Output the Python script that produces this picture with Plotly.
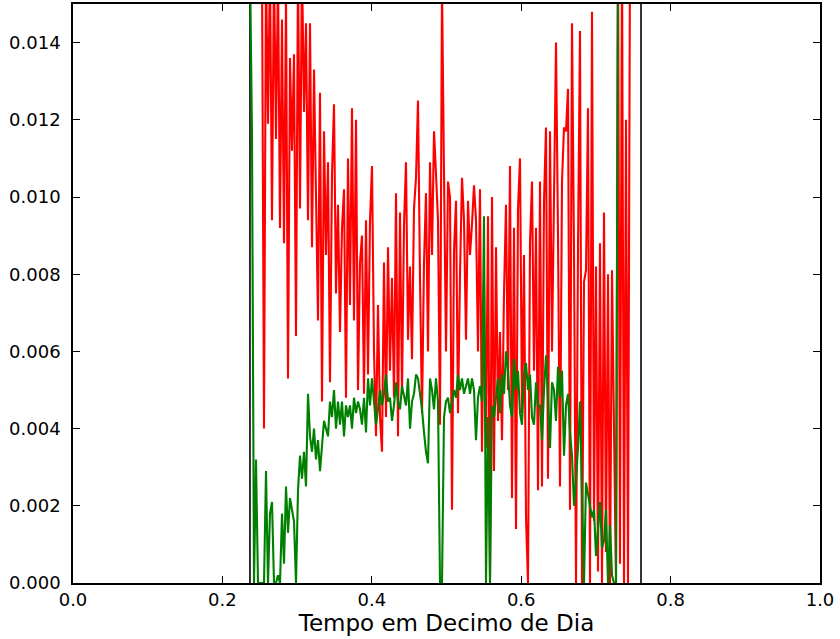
import numpy as np
import plotly.graph_objects as go

# Time grid (decimal fraction of day), regular sampling
tempo_inicio = 0.23695
tempo_fim = 0.74565
n_amostras = 191

# Red series values (None = no data)
serie_vermelha = [
    None, None, None, None, None, None,
    0.0160, 0.0040, 0.0160, 0.0119, 0.0160, 0.0094, 0.0160, 0.0115, 0.0158, 0.0092,
    0.0146, 0.0088, 0.0152, 0.0053, 0.0136, 0.0112, 0.0137, 0.0064, 0.0160, 0.0097,
    0.0160, 0.0122, 0.0145, 0.0094, 0.0145, 0.0087, 0.0133, 0.0105, 0.0068, 0.0127,
    0.0047, 0.0117, 0.0085, 0.0109, 0.0052, 0.0106, 0.0124, 0.0075, 0.0098, 0.0065,
    0.0092, 0.0102, 0.0048, 0.0110, 0.0072, 0.0123, 0.0068, 0.0120, 0.0050, 0.0083,
    0.0090, 0.0049, 0.0094, 0.0054, 0.0094, 0.0108, 0.0060, 0.0038, 0.0072, 0.0043,
    0.0034, 0.0083, 0.0043, 0.0087, 0.0055, 0.0079, 0.0048, 0.0101, 0.0038, 0.0096,
    0.0049, 0.0093, 0.0109, 0.0063, 0.0082, 0.0058, 0.0097, 0.0105, 0.0125, 0.0079,
    0.0044, 0.0083, 0.0101, 0.0060, 0.0109, 0.0085, 0.0117, 0.0106, 0.0094, 0.0041,
    0.0155, 0.0106, 0.0060, 0.0104, 0.0100, 0.0019, 0.0086, 0.0099, 0.0044, 0.0080,
    0.0105, 0.0094, 0.0063, 0.0099, 0.0085, 0.0093, 0.0103, 0.0094, 0.0060, 0.0102,
    0.0034, 0.0078, 0.0035, 0.0095, 0.0000, 0.0100, 0.0029, 0.0087, 0.0042, 0.0065,
    0.0037, 0.0075, 0.0098, 0.0050, 0.0108, 0.0022, 0.0092, 0.0014, 0.0097, 0.0110,
    0.0044, 0.0085, 0.0017, 0.0000, 0.0088, 0.0104, 0.0055, 0.0092, 0.0024, 0.0104,
    0.0025, 0.0099, 0.0118, 0.0027, 0.0117, 0.0060, 0.0106, 0.0140, 0.0090, 0.0025,
    0.0104, 0.0118, 0.0117, 0.0128, 0.0019, 0.0145, 0.0086, 0.0000, 0.0087, 0.0143,
    0.0000, 0.0078, 0.0081, 0.0123, 0.0000, 0.0148, 0.0016, 0.0082, 0.0003, 0.0088,
    0.0000, 0.0096, 0.0008, 0.0080, 0.0000, 0.0081, 0.0040, 0.0000, 0.0165, 0.0005,
    0.0165, 0.0000, 0.0120, 0.0000, 0.0165, None,
]

# Green series values (None = no data)
serie_verde = [
    0.0160, 0.0116, 0.0000, 0.0032, 0.0000, 0.0000, 0.0000, 0.0000, 0.0029, 0.0000,
    0.0018, 0.0021, 0.0000, 0.0000, 0.0002, 0.0000, 0.0018, 0.0005, 0.0025, 0.0013,
    0.0022, 0.0019, 0.0016, 0.0000, 0.0024, 0.0033, 0.0027, 0.0034, 0.0025, 0.0049,
    0.0038, 0.0034, 0.0040, 0.0032, 0.0037, 0.0029, 0.0037, 0.0042, 0.0040, 0.0038,
    0.0047, 0.0043, 0.0050, 0.0040, 0.0047, 0.0041, 0.0047, 0.0038, 0.0046, 0.0043,
    0.0046, 0.0040, 0.0048, 0.0044, 0.0047, 0.0045, 0.0041, 0.0048, 0.0039, 0.0053,
    0.0046, 0.0053, 0.0047, 0.0041, 0.0045, 0.0050, 0.0046, 0.0049, 0.0054, 0.0047,
    0.0048, 0.0042, 0.0046, 0.0052, 0.0047, 0.0045, 0.0051, 0.0048, 0.0046, 0.0053,
    0.0040, 0.0047, 0.0049, 0.0054, 0.0053, 0.0049, 0.0045, 0.0039, 0.0034, 0.0031,
    0.0053, 0.0050, 0.0045, 0.0053, 0.0047, 0.0000, 0.0000, 0.0043, 0.0047, 0.0048,
    0.0044, 0.0047, 0.0050, 0.0048, 0.0054, 0.0050, 0.0053, 0.0049, 0.0051, 0.0053,
    0.0049, 0.0053, 0.0050, 0.0037, 0.0048, 0.0051, 0.0047, 0.0095, 0.0000, 0.0043,
    0.0000, 0.0046, 0.0043, 0.0048, 0.0053, 0.0044, 0.0054, 0.0049, 0.0060, 0.0055,
    0.0046, 0.0043, 0.0058, 0.0050, 0.0055, 0.0044, 0.0041, 0.0054, 0.0057, 0.0050,
    0.0054, 0.0043, 0.0041, 0.0052, 0.0046, 0.0046, 0.0037, 0.0050, 0.0059, 0.0048,
    0.0035, 0.0052, 0.0050, 0.0042, 0.0056, 0.0048, 0.0055, 0.0033, 0.0046, 0.0049,
    0.0039, 0.0033, 0.0020, 0.0027, 0.0035, 0.0047, 0.0022, 0.0000, 0.0026, 0.0023,
    0.0021, 0.0017, 0.0019, 0.0007, 0.0014, 0.0021, 0.0009, 0.0011, 0.0019, 0.0000,
    0.0015, 0.0002, 0.0000, 0.0000, 0.0165, None, None, None, None, None,
    None,
]

# Black boundary markers (start / end of the observation window)
limites_janela = [0.2369, 0.7604]
limite_altura = [0.0, 0.02]

x_ticks = [0.0, 0.2, 0.4, 0.6, 0.8, 1.0]
x_tick_labels = ["0.0", "0.2", "0.4", "0.6", "0.8", "1.0"]
y_ticks = [0.000, 0.002, 0.004, 0.006, 0.008, 0.010, 0.012, 0.014]
y_tick_labels = ["0.000", "0.002", "0.004", "0.006", "0.008", "0.010", "0.012", "0.014"]

tempo = np.linspace(tempo_inicio, tempo_fim, n_amostras)

fig = go.Figure()

bx, by = [], []
for xv in limites_janela:
    bx += [xv, xv, None]
    by += [limite_altura[0], limite_altura[1], None]
fig.add_trace(go.Scatter(x=bx, y=by, mode="lines",
                         line=dict(color="black", width=1.6),
                         showlegend=False, hoverinfo="skip"))

fig.add_trace(go.Scatter(x=tempo, y=serie_vermelha, mode="lines",
                         line=dict(color="#ff0000", width=2.1),
                         connectgaps=False, showlegend=False))
fig.add_trace(go.Scatter(x=tempo, y=serie_verde, mode="lines",
                         line=dict(color="#008000", width=2.1),
                         connectgaps=False, showlegend=False))

axis_common = dict(
    showline=True, linecolor="black", linewidth=1.5, mirror="ticks",
    ticks="inside", ticklen=7, tickwidth=1.2, tickcolor="black",
    showgrid=False, zeroline=False, automargin=False,
    tickfont=dict(family="DejaVu Sans", size=18, color="black"),
)

fig.update_xaxes(range=[0, 1], tickvals=x_ticks, ticktext=x_tick_labels,
                 title=dict(text="Tempo em Decimo de Dia",
                            font=dict(family="DejaVu Sans", size=23, color="black"),
                            standoff=5),
                 **axis_common)
fig.update_yaxes(range=[0, 0.015], tickvals=y_ticks, ticktext=y_tick_labels,
                 ticklabelstandoff=7,
                 **axis_common)

fig.update_layout(
    width=840, height=639,
    margin=dict(l=73, r=20, t=4, b=56),
    plot_bgcolor="white", paper_bgcolor="white",
    showlegend=False,
)

fig.write_html("out.html",
               config={"displayModeBar": False},
               post_script="document.body.style.margin='0';document.body.style.overflow='hidden';")
